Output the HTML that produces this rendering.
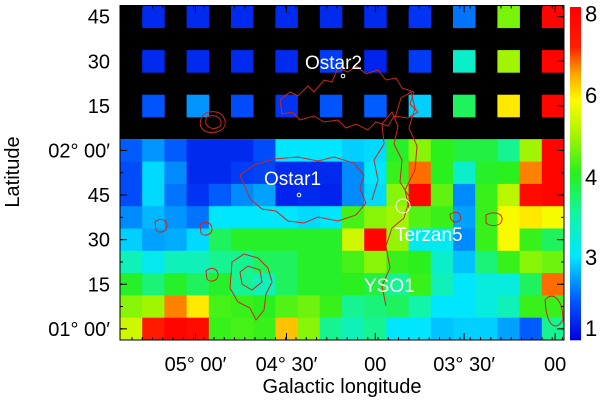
<!DOCTYPE html>
<html><head><meta charset="utf-8"><style>
body{margin:0;background:#fff;}
svg{display:block;font-family:"Liberation Sans",sans-serif;}
</style></head><body>
<svg id="chart" width="600" height="404" viewBox="0 0 600 404" xmlns="http://www.w3.org/2000/svg">
<rect x="0" y="0" width="600" height="404" fill="#fff"/>
<g id="cells"></g>
<g id="contours" fill="none" stroke="#c8281e" stroke-width="1">
<path d="M203,115 c8,-6 20,-4 22,6 c2,10 -12,14 -20,10 c-6,-3 -6,-10 -2,-16z"/>
<path d="M207,117 c6,-3 13,-1 14,5 c1,6 -8,8 -12,5 c-4,-2 -4,-7 -2,-10z"/>
<path d="M280,100 l10,-8 l8,4 l10,-10 l6,6 l10,-12 l8,2 l6,-14 l10,4 l8,-6 l10,8 l12,-4 l8,10 l10,-2 l6,10 l12,4 l-4,12 l8,8 l-10,6 l-14,-2 l-6,10 l-12,-4 l-8,8 l-12,-6 l-10,4 l-8,-8 l-14,2 l-10,-6 l-14,4 l-8,-8 l-10,2 z"/>
<path d="M240,175 l14,-10 l20,-6 l24,-2 l20,4 l16,-4 l20,6 l10,12 l-4,14 l6,14 l-10,12 l-18,6 l-20,-4 l-14,6 l-16,-2 l-12,-10 l-14,-2 l-12,-10 z"/>
<path d="M372,200 l6,-20 l-4,-20 l10,-16 l-2,-20 l10,-12 l6,14 l-4,18 l8,16 l-2,22 l10,16 l-6,20 l-12,10 l-6,18 l4,22 l-8,18 l4,20"/>
<path d="M395,118 l6,-20 l10,-6 l4,16 l-6,20 l8,18 l-2,24 l-10,20 l4,18"/>
<path d="M232,262 l12,-8 l14,4 l10,10 l4,14 l-6,12 l-2,16 l-8,10 l-6,-12 l-12,-6 l-8,-14 z"/>
<path d="M240,272 l8,-6 l12,4 l2,12 l-10,8 l-10,-6 z"/>
<path d="M206,271 c6,-5 12,-2 12,4 c0,6 -8,8 -11,4z"/>
<path d="M155,222 c6,-5 12,-2 12,4 c0,6 -8,8 -11,4z"/>
<path d="M200,225 c6,-5 12,-2 12,4 c0,6 -8,8 -11,4z"/>
<path d="M486,215 c8,-4 16,-2 16,4 c0,8 -12,8 -16,4z"/>
<path d="M450,214 c8,-4 12,0 10,6 c-4,4 -10,2 -10,-6z"/>
<path d="M545,300 c8,-10 18,0 18,20 c-6,10 -16,10 -18,-20z"/>
</g>
<g id="markers"></g>
<rect x="120" y="5.5" width="444" height="334.5" fill="none" stroke="#000" stroke-width="1"/>
<g id="ticks" stroke="#000" stroke-width="1"></g>
<g id="ylabels" font-size="20" fill="#000" text-anchor="end"></g>
<g id="xlabels" font-size="20" fill="#000" text-anchor="middle"></g>
<text x="342" y="393" font-size="20" text-anchor="middle">Galactic longitude</text>
<text x="0" y="0" font-size="20" text-anchor="middle" transform="translate(19,172) rotate(-90)">Latitude</text>
<g id="cbar"></g>
<g id="cblabels" font-size="22" fill="#000"></g>
</svg>
<script>
const gridBottom = [
[1.8,2.3,1.8,1.2,1.2,1.2,1.6,3.0,3.0,3.0, 2.8,2.9,4.0,4.8,4.1,3.9,3.9,3.6,5.0,8.0],
[1.6,2.9,2.2,1.2,1.2,1.4,1.5,1.2,1.2,1.2, 2.2,3.0,4.2,6.8,4.1,3.3,4.0,4.1,6.7,8.0],
[1.6,2.9,2.0,1.3,1.8,2.2,2.4,1.1,1.2,1.1, 2.2,2.9,4.8,8.0,4.5,2.2,4.2,5.2,7.8,8.0],
[2.2,2.6,2.3,2.0,3.0,3.0,3.0,3.0,2.9,3.0, 4.3,4.8,5.0,4.4,4.2,2.4,4.2,5.8,6.0,5.8],
[2.8,2.4,2.5,2.9,3.8,4.0,4.0,4.0,4.0,4.0, 5.4,8.0,4.9,3.1,3.1,2.2,4.2,5.8,4.2,3.8],
[3.4,3.1,3.4,3.4,3.6,3.6,3.8,3.8,4.0,4.0, 4.3,4.8,4.2,4.1,3.3,2.7,3.7,4.2,4.8,4.6],
[4.0,3.7,4.0,3.8,4.0,3.6,3.4,3.8,4.0,4.0, 4.1,3.9,3.6,4.2,3.4,3.0,3.2,3.2,3.8,6.8],
[4.8,5.0,6.7,6.0,4.3,4.2,4.1,4.4,4.6,4.2, 3.6,3.7,3.8,3.5,3.0,3.0,3.2,3.4,4.2,4.2],
[5.4,7.3,8.0,7.8,4.2,4.3,4.2,6.3,4.8,3.6, 3.4,3.6,3.0,3.0,2.7,2.8,2.8,2.4,1.8,3.6]
];
const gridTop = [
[1.2,1.2,1.2,1.2,1.2,1.2,1.3,2.0,4.7,8.0],
[1.2,1.2,1.2,1.2,1.4,1.1,1.4,3.3,5.0,8.0],
[1.7,2.3,1.6,1.3,1.7,1.8,2.8,3.8,6.0,8.0]
];
const yTickLabels = ["45","30","15","02° 00′","45","30","15","01° 00′"];
const xTickLabels = ["05° 00′","04° 30′","00","03° 30′","00"];
const xTickCols = [3.4,7.5,11.5,15.5,19.6];
const cbTicks = [1,3,4,6,8];
const cbTickPos = [0.036,0.25,0.49,0.736,0.98];

const NS="http://www.w3.org/2000/svg";
const X0=120, X1=564, Y0=5.5, Y1=340, NC=20, NR=15;
const cw=(X1-X0)/NC, rh=(Y1-Y0)/NR;
const xs=c=>X0+c*cw, ys=r=>Y0+r*rh;
function mk(t,a,p){const e=document.createElementNS(NS,t);for(const k in a)e.setAttribute(k,a[k]);p.appendChild(e);return e;}
function valToT(v){
  if(v<=cbTicks[0])return cbTickPos[0];
  for(let i=1;i<cbTicks.length;i++){if(v<=cbTicks[i]){const f=(v-cbTicks[i-1])/(cbTicks[i]-cbTicks[i-1]);return cbTickPos[i-1]+f*(cbTickPos[i]-cbTickPos[i-1]);}}
  return 1;
}
const stops=[[0,[0,0,225]],[0.12,[0,90,255]],[0.25,[0,230,255]],[0.38,[20,245,160]],[0.5,[40,240,30]],[0.62,[170,245,0]],[0.72,[255,250,0]],[0.8,[255,165,0]],[0.88,[255,30,0]],[1,[255,0,0]]];
function tColor(t){
  for(let i=1;i<stops.length;i++){if(t<=stops[i][0]){const a=stops[i-1],b=stops[i];const f=(t-a[0])/(b[0]-a[0]);const c=a[1].map((x,j)=>Math.round(x+f*(b[1][j]-x)));return `rgb(${c})`;}}
  return "rgb(255,0,0)";
}
const cells=document.getElementById('cells');
const bg=mk('rect',{x:X0,y:Y0,width:X1-X0,height:6*rh,fill:'#000'},cells);


gridTop.forEach((row,i)=>row.forEach((v,j)=>{
  const e=mk('rect',{x:xs(2*j+1),y:ys(2*i),width:cw+0.3,height:rh+0.3,fill:tColor(valToT(v))},cells);
  
  
}));
gridBottom.forEach((row,i)=>row.forEach((v,j)=>{
  const e=mk('rect',{x:xs(j),y:ys(6+i),width:cw+0.4,height:rh+0.4,fill:tColor(valToT(v))},cells);
  
  
}));
const tk=document.getElementById('ticks');
yTickLabels.forEach((l,i)=>{
  const y=ys(2*i)+rh/2;
  mk('line',{x1:X0,y1:y,x2:X0+7,y2:y},tk);mk('line',{x1:X1,y1:y,x2:X1-7,y2:y},tk);
  const t=mk('text',{x:110,y:y+7},document.getElementById('ylabels'));t.textContent=l;
  
  
});
for(let i=0;i<NR;i++){const y=ys(i)+rh/2;mk('line',{x1:X0,y1:y,x2:X0+3,y2:y},tk);mk('line',{x1:X1,y1:y,x2:X1-3,y2:y},tk);}
xTickLabels.forEach((l,i)=>{
  const x=xs(xTickCols[i]);
  mk('line',{x1:x,y1:Y1,x2:x,y2:Y1-7},tk);mk('line',{x1:x,y1:Y0,x2:x,y2:Y0+7},tk);
  const t=mk('text',{x:x,y:371},document.getElementById('xlabels'));t.textContent=l;
  
  
});
for(let c=0;c<44;c++){const x=X0+12+c*10.25;if(x>X1)break;mk('line',{x1:x,y1:Y1,x2:x,y2:Y1-3},tk);mk('line',{x1:x,y1:Y0,x2:x,y2:Y0+3},tk);}
const cb=document.getElementById('cbar');
const CB0=340,CB1=7;
for(let i=0;i<333;i++){const t=i/333;mk('rect',{x:570,y:CB0-i-1,width:11,height:1.3,fill:tColor(t)},cb);}
cbTicks.forEach((v,i)=>{
  const y=CB0-cbTickPos[i]*(CB0-CB1);
  const t=mk('text',{x:585,y:y+8},document.getElementById('cblabels'));t.textContent=v;
  
  
});
const mg=document.getElementById('markers');
function lab(txt,x,y,name){const t=mk('text',{x:x,y:y,'font-size':19,fill:'#fff'},mg);t.textContent=txt;}
lab('Ostar2',305,69,'ostar2-label');mk('circle',{cx:343,cy:76,r:1.8,fill:'none',stroke:'#fff'},mg);
lab('Ostar1',264,185,'ostar1-label');mk('circle',{cx:299,cy:195,r:1.8,fill:'none',stroke:'#fff'},mg);
lab('Terzan5',395,241,'terzan5-label');mk('circle',{cx:403,cy:206,r:7,fill:'none',stroke:'#fff'},mg);
lab('YSO1',364,292,'yso1-label');
</script>
</body></html>
